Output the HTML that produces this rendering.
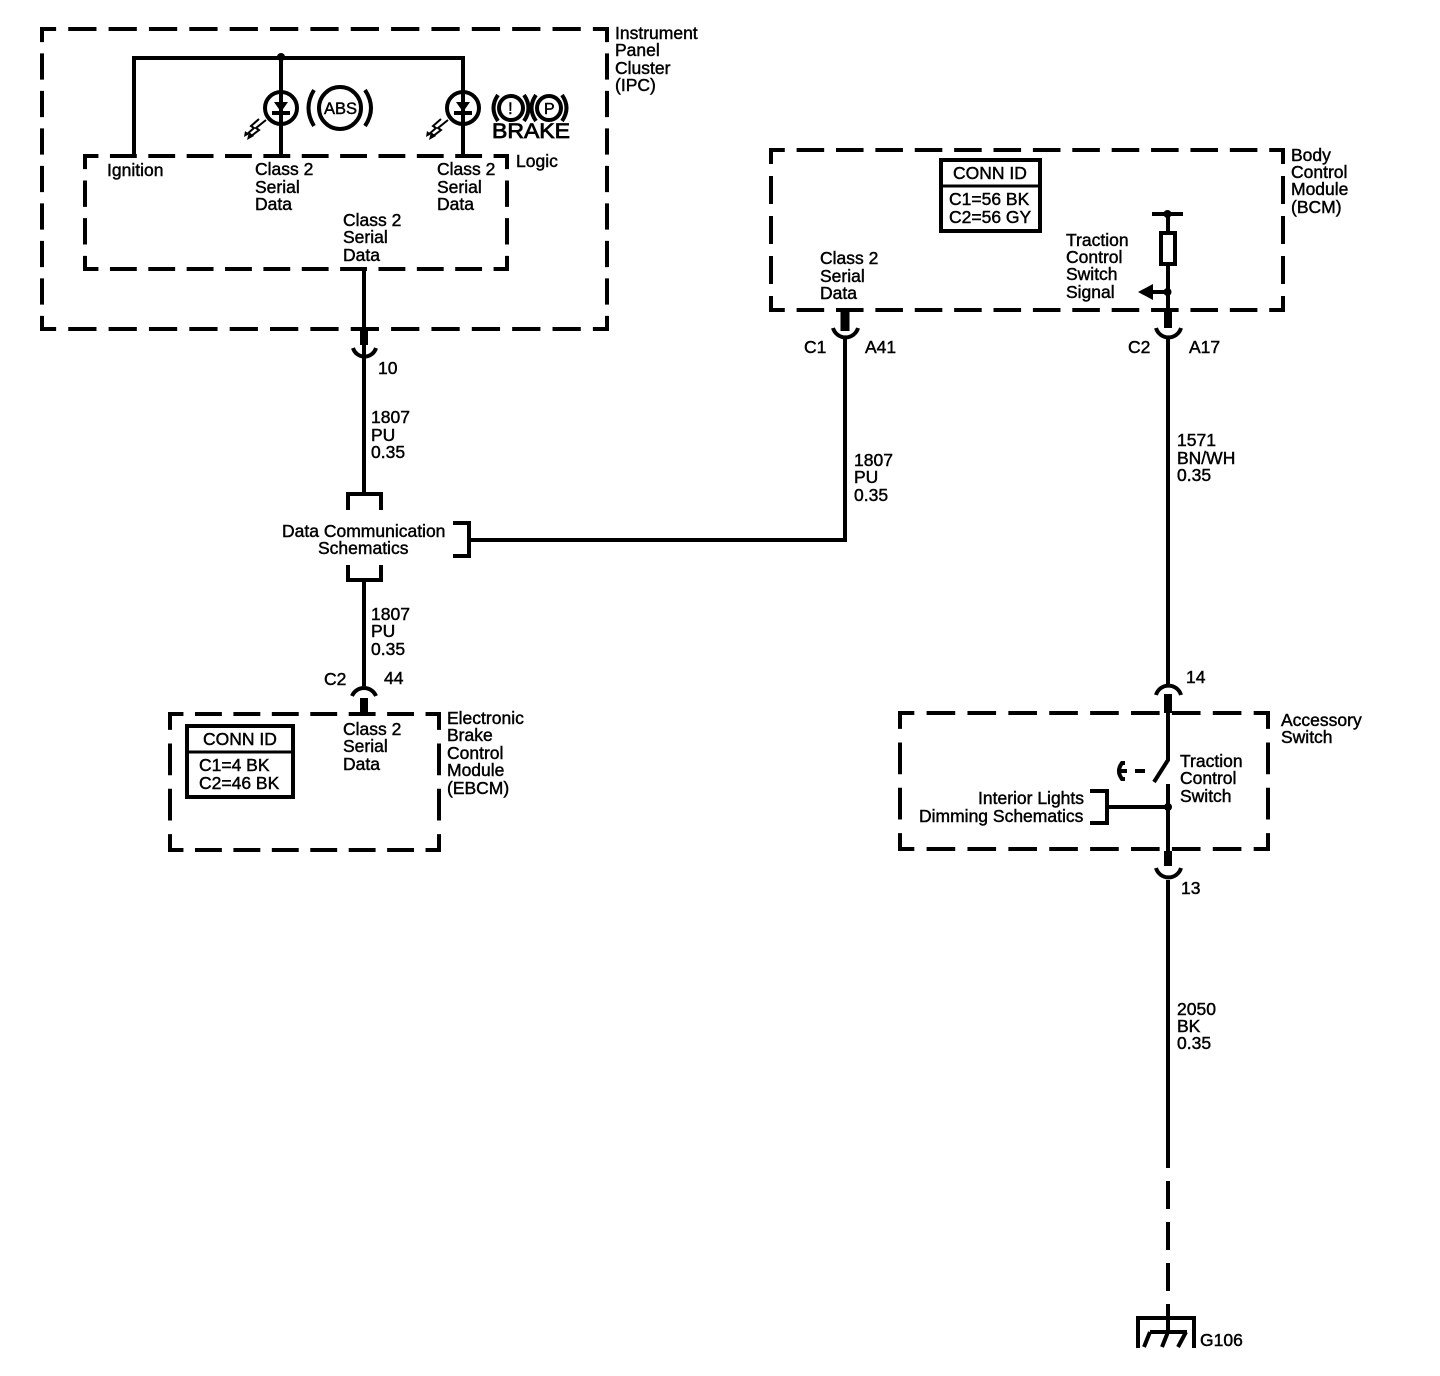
<!DOCTYPE html>
<html><head><meta charset="utf-8"><style>
html,body{margin:0;padding:0;background:#fff}
svg{display:block}
text{font-family:"Liberation Sans",sans-serif;font-size:17.5px;fill:#000;stroke:#000;stroke-width:.45px}
.d{fill:none;stroke:#000;stroke-width:4;stroke-dasharray:.7 .3;stroke-dashoffset:.35}
.w{fill:none;stroke:#000;stroke-width:4}
.t{fill:none;stroke:#000;stroke-width:3}
.k{fill:none;stroke:#000;stroke-width:8}
.z{fill:none;stroke:#000;stroke-width:2}
</style></head><body>
<svg width="1440" height="1376" viewBox="0 0 1440 1376" xmlns="http://www.w3.org/2000/svg">
<!-- IPC box -->
<path class="d" pathLength="14" d="M42 29H607"/><path class="d" pathLength="14" d="M42 329H607"/>
<path class="d" pathLength="8" d="M42 29V329"/><path class="d" pathLength="8" d="M607 29V329"/>
<!-- Logic box -->
<path class="d" pathLength="11" d="M85 156H507"/><path class="d" pathLength="11" d="M85 269H507"/>
<path class="d" pathLength="3" d="M85 156V269"/><path class="d" pathLength="3" d="M507 156V269"/>
<!-- BCM box -->
<path class="d" pathLength="13" d="M771 150H1283"/><path class="d" pathLength="13" d="M771 310H1283"/>
<path class="d" pathLength="4" d="M771 150V310"/><path class="d" pathLength="4" d="M1283 150V310"/>
<!-- EBCM box -->
<path class="d" pathLength="7" d="M170 714H439"/><path class="d" pathLength="7" d="M170 850H439"/>
<path class="d" pathLength="3" d="M170 714V850"/><path class="d" pathLength="3" d="M439 714V850"/>
<!-- Accessory box -->
<path class="d" pathLength="9" d="M900 713H1268"/><path class="d" pathLength="9" d="M900 849H1268"/>
<path class="d" pathLength="3" d="M900 713V849"/><path class="d" pathLength="3" d="M1268 713V849"/>
<!-- corners -->
<path d="M40 27h4v4h-4zM605 27h4v4h-4zM40 327h4v4h-4zM605 327h4v4h-4zM83 154h4v4h-4zM505 154h4v4h-4zM83 267h4v4h-4zM505 267h4v4h-4zM769 148h4v4h-4zM1281 148h4v4h-4zM769 308h4v4h-4zM1281 308h4v4h-4zM168 712h4v4h-4zM437 712h4v4h-4zM168 848h4v4h-4zM437 848h4v4h-4zM898 711h4v4h-4zM1266 711h4v4h-4zM898 847h4v4h-4zM1266 847h4v4h-4z"/>
<!-- IPC wiring -->
<path class="w" d="M134 156V58H463V156"/>
<path class="w" d="M281 58V156"/>
<circle cx="281" cy="57" r="4"/>
<circle class="w" cx="281" cy="108" r="16"/>
<circle class="w" cx="463" cy="108" r="16"/>
<path d="M274 102H288L281 112Z M456 102H470L463 112Z"/>
<path class="w" d="M272 113H290M454 113H472"/>
<g id="l1">
<path class="z" d="M266 120L256 128L259 130L250 137"/>
<path class="z" d="M259 119L251 126L254 128L246 135"/>
<path d="M247 140l2-8 5 4zM244 137l1-6 4 3z"/>
</g>
<g transform="translate(182 0)">
<path class="z" d="M266 120L256 128L259 130L250 137"/>
<path class="z" d="M259 119L251 126L254 128L246 135"/>
<path d="M247 140l2-8 5 4zM244 137l1-6 4 3z"/>
</g>
<!-- ABS symbol -->
<circle class="w" cx="340" cy="108" r="21"/>
<path class="w" d="M314 90Q303 108 314 126M365 90Q377 108 365 126"/>
<text x="324" y="114" style="font-size:16.500px">ABS</text>
<!-- Brake symbol -->
<circle class="w" cx="511" cy="108" r="12"/>
<circle class="w" cx="549" cy="108" r="12"/>
<path class="w" d="M498 95Q489 108 498 121M524 95Q533 108 524 121M536 95Q527 108 536 121M562 95Q571 108 562 121"/>
<text x="508" y="114" style="font-size:17px">!</text>
<text x="544" y="114" style="font-size:16px">P</text>
<text x="492" y="138" textLength="78" lengthAdjust="spacingAndGlyphs" style="font-size:21px;stroke-width:.8px">BRAKE</text>
<!-- Left vertical run -->
<path class="w" d="M364 269V492"/>
<path class="k" d="M364 329V345"/>
<path class="w" d="M353 348A12 12 0 0 0 376 348"/>
<path class="w" d="M348 510V494H381V510"/>
<path class="w" d="M348 565V580H381V565"/>
<path class="w" d="M364 580V686"/>
<path class="w" d="M352 696A13 13 0 0 1 376 696"/>
<path class="k" d="M364 698V714"/>
<!-- Data comm to BCM -->
<path class="w" d="M453 523H469V556H453"/>
<path class="w" d="M469 540H845V339"/>
<path class="k" style="stroke-width:9" d="M845 310V331"/>
<path class="w" d="M833 328A13 13 0 0 0 858 328"/>
<!-- BCM right -->
<path class="w" d="M1168 214V234M1168 265V310"/>
<path class="w" d="M1152 214H1183"/>
<circle cx="1167.500" cy="214" r="4"/>
<rect class="w" x="1161" y="233" width="14" height="31"/>
<circle cx="1167.500" cy="292" r="4"/>
<path class="w" d="M1150 292H1168"/>
<path d="M1138 292L1153 284V300Z"/>
<path class="k" d="M1168 310V328"/>
<path class="w" d="M1156 328A13 13 0 0 0 1181 328"/>
<path class="w" d="M1168 339V684"/>
<path class="w" d="M1156 695A13 13 0 0 1 1181 695"/>
<path class="k" d="M1168 694V713"/>
<!-- Accessory switch -->
<path class="w" d="M1168 713V760L1154 782"/>
<path class="w" d="M1168 784V852"/>
<path class="k" d="M1168 851V866"/>
<path class="w" d="M1156 868A13 13 0 0 0 1181 868"/>
<path class="w" d="M1168 880V1168"/>
<circle cx="1168" cy="807" r="4"/>
<path class="w" d="M1090 791H1107V823H1090M1107 807H1168"/>
<path class="w" d="M1125 763H1122Q1116 771 1122 779H1125M1119 771H1127M1135 771H1145"/>
<!-- dashed to ground -->
<path class="w" d="M1168 1181V1209M1168 1222V1250M1168 1263V1291M1168 1304V1332"/>
<path class="w" d="M1138 1348V1318H1194V1348"/>
<path class="w" d="M1150 1332H1187"/>
<path class="w" d="M1150 1332L1144 1347M1168 1332L1162 1347M1186 1332L1178 1347"/>
<!-- CONN ID boxes -->
<rect class="w" x="941" y="160" width="99" height="71"/>
<path class="t" d="M941 186H1040"/>
<rect class="w" x="187" y="726" width="106" height="71"/>
<path class="t" d="M187 752H293"/>
<!-- labels -->
<text x="615" y="39">Instrument</text><text x="615" y="56">Panel</text><text x="615" y="74">Cluster</text><text x="615" y="91">(IPC)</text>
<text x="516" y="167">Logic</text>
<text x="107" y="176">Ignition</text>
<text x="255" y="175">Class 2</text><text x="255" y="193">Serial</text><text x="255" y="210">Data</text>
<text x="437" y="175">Class 2</text><text x="437" y="193">Serial</text><text x="437" y="210">Data</text>
<text x="343" y="226">Class 2</text><text x="343" y="243">Serial</text><text x="343" y="261">Data</text>
<text x="378" y="374">10</text>
<text x="371" y="423">1807</text><text x="371" y="441">PU</text><text x="371" y="458">0.35</text>
<text x="282" y="537">Data Communication</text><text x="318" y="554">Schematics</text>
<text x="371" y="620">1807</text><text x="371" y="637">PU</text><text x="371" y="655">0.35</text>
<text x="324" y="685">C2</text><text x="384" y="684">44</text>
<text x="343" y="735">Class 2</text><text x="343" y="752">Serial</text><text x="343" y="770">Data</text>
<text x="447" y="724">Electronic</text><text x="447" y="741">Brake</text><text x="447" y="759">Control</text><text x="447" y="776">Module</text><text x="447" y="794">(EBCM)</text>
<text x="203" y="745">CONN ID</text>
<text x="199" y="771">C1=4 BK</text><text x="199" y="789">C2=46 BK</text>
<text x="953" y="179">CONN ID</text>
<text x="949" y="205">C1=56 BK</text><text x="949" y="223">C2=56 GY</text>
<text x="1291" y="161">Body</text><text x="1291" y="178">Control</text><text x="1291" y="195">Module</text><text x="1291" y="213">(BCM)</text>
<text x="820" y="264">Class 2</text><text x="820" y="282">Serial</text><text x="820" y="299">Data</text>
<text x="1066" y="246">Traction</text><text x="1066" y="263">Control</text><text x="1066" y="280">Switch</text><text x="1066" y="298">Signal</text>
<text x="804" y="353">C1</text><text x="865" y="353">A41</text>
<text x="1128" y="353">C2</text><text x="1189" y="353">A17</text>
<text x="854" y="466">1807</text><text x="854" y="483">PU</text><text x="854" y="501">0.35</text>
<text x="1177" y="446">1571</text><text x="1177" y="464">BN/WH</text><text x="1177" y="481">0.35</text>
<text x="1186" y="683">14</text>
<text x="1281" y="726">Accessory</text><text x="1281" y="743">Switch</text>
<text x="1180" y="767">Traction</text><text x="1180" y="784">Control</text><text x="1180" y="802">Switch</text>
<text x="978" y="804">Interior Lights</text><text x="919" y="822">Dimming Schematics</text>
<text x="1181" y="894">13</text>
<text x="1177" y="1015">2050</text><text x="1177" y="1032">BK</text><text x="1177" y="1049">0.35</text>
<text x="1200" y="1346">G106</text>
</svg>
</body></html>
